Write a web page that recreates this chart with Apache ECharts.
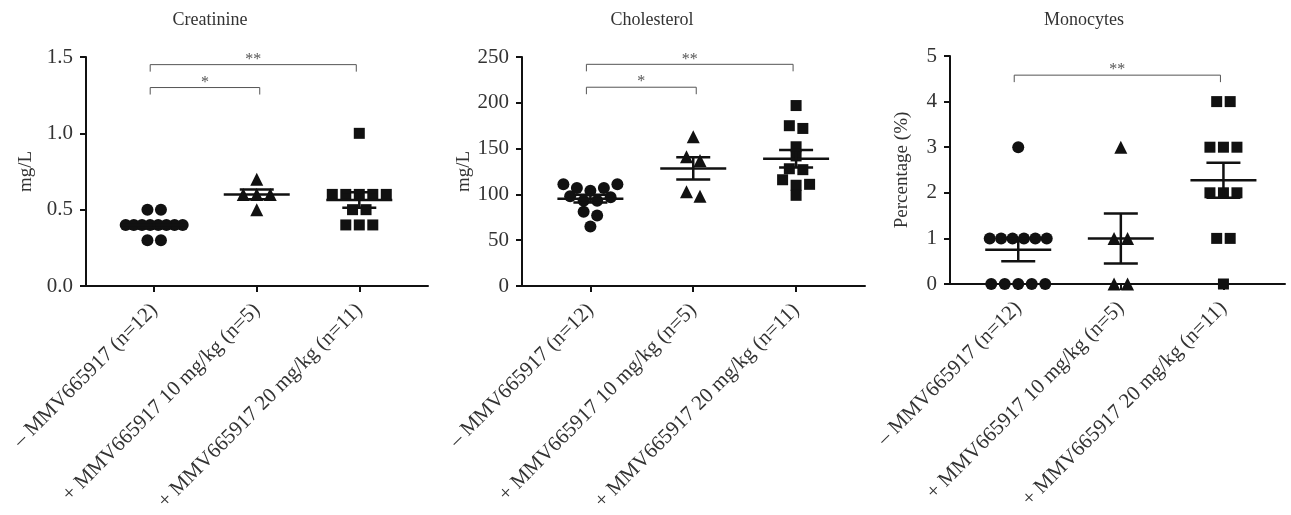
<!DOCTYPE html>
<html><head><meta charset="utf-8">
<script src="https://cdn.jsdelivr.net/npm/echarts@6/dist/echarts.min.js"></script>
<style>html,body{margin:0;padding:0;background:#fff}#c{width:1291px;height:515px}</style>
</head><body><div id="c"></div>
<script>
// ---------------- data ----------------
const categories = ['– MMV665917 (n=12)', '+ MMV665917 10 mg/kg (n=5)', '+ MMV665917 20 mg/kg (n=11)'];
const panelTitles = ['Creatinine', 'Cholesterol', 'Monocytes'];
const yAxisNames = ['mg/L', 'mg/L', 'Percentage (%)'];

const creatinineCtrl = [0.5, 0.5, 0.4, 0.4, 0.4, 0.4, 0.4, 0.4, 0.4, 0.4, 0.3, 0.3];
const creatinine10 = [0.7, 0.6, 0.6, 0.6, 0.5];
const creatinine20 = [1.0, 0.6, 0.6, 0.6, 0.6, 0.6, 0.5, 0.5, 0.4, 0.4, 0.4];

const cholesterolCtrl = [111, 111, 107, 107, 104, 98, 97, 93, 93, 81, 77, 65];
const cholesterol10 = [163, 141, 137, 103, 98];
const cholesterol20 = [197, 175, 172, 152, 142, 128, 127, 116, 111, 110, 99];

const monocytesCtrl = [3, 1, 1, 1, 1, 1, 1, 0, 0, 0, 0, 0];
const monocytes10 = [3, 1, 1, 0, 0];
const monocytes20 = [4, 4, 3, 3, 3, 2, 2, 2, 1, 1, 0];

const creatinineTicks = [0, 0.5, 1.0, 1.5];
const cholesterolTicks = [0, 50, 100, 150, 200, 250];
const monocytesTicks = [0, 1, 2, 3, 4, 5];

// significance brackets: [fromGroup, toGroup, height, label]
const creatinineSig = [[0, 1, 1.30, '*'], [0, 2, 1.45, '**']];
const cholesterolSig = [[0, 1, 217, '*'], [0, 2, 242, '**']];
const monocytesSig = [[0, 2, 4.58, '**']];

// ---------------- layout / style ----------------
const FONT = '"Liberation Serif", "DejaVu Serif", serif';
const INK = '#111';
const TXT = '#333';
const panels = [
  { groups: [creatinineCtrl, creatinine10, creatinine20], ticks: creatinineTicks, sig: creatinineSig, dec: 1,
    grid: { left: 86, top: 57, width: 342, height: 229 }, xMax: 2.67, nameGap: 50, titleX: 210 },
  { groups: [cholesterolCtrl, cholesterol10, cholesterol20], ticks: cholesterolTicks, sig: cholesterolSig, dec: 0,
    grid: { left: 522, top: 57, width: 343, height: 229 }, xMax: 2.67, nameGap: 43, titleX: 652 },
  { groups: [monocytesCtrl, monocytes10, monocytes20], ticks: monocytesTicks, sig: monocytesSig, dec: 0,
    grid: { left: 950, top: 56, width: 335, height: 228 }, xMax: 2.6, nameGap: 38, titleX: 1084 }
];
const X_MIN = -0.665;
const symbols = ['circle', 'triangle', 'rect'];
const symbolSizes = [12, 13, 11];
const DOT = 13.5, MAXW = 57, ROW_PX = 8;

function mean(a) { return a.reduce((s, v) => s + v, 0) / a.length; }
function sem(a) {
  const m = mean(a);
  const v = a.reduce((s, x) => s + (x - m) * (x - m), 0) / (a.length - 1);
  return Math.sqrt(v) / Math.sqrt(a.length);
}
// Prism-like row scatter: values that fall on the same pixel row are spread symmetrically
function swarm(values, gi, pxPerY, pxPerX) {
  const sorted = values.slice().sort((a, b) => b - a);
  const rows = [];
  sorted.forEach(v => {
    const r = rows[rows.length - 1];
    if (r && (r[0] - v) * pxPerY < ROW_PX) r.push(v); else rows.push([v]);
  });
  const out = [];
  rows.forEach(r => {
    const k = r.length;
    const s = k > 1 ? Math.min(DOT, MAXW / (k - 1)) : 0;
    r.forEach((v, j) => {
      const slot = j % 2 === 0 ? j / 2 : k - 1 - (j - 1) / 2;
      const off = (slot - (k - 1) / 2) * s;
      out.push([gi + off / pxPerX, v]);
    });
  });
  return out;
}

const grids = [], xAxes = [], yAxes = [], series = [], graphics = [];
panels.forEach((p, pi) => {
  grids.push(Object.assign({ containLabel: false }, p.grid));
  const yMax = p.ticks[p.ticks.length - 1];
  const pxPerY = p.grid.height / (yMax - p.ticks[0]);
  const pxPerX = p.grid.width / (p.xMax - X_MIN);
  xAxes.push({
    gridIndex: pi, type: 'value', min: X_MIN, max: p.xMax,
    splitLine: { show: false },
    axisLine: { show: true, onZero: false, lineStyle: { color: INK, width: 2 } },
    axisTick: { show: true, length: 6, customValues: [0, 1, 2], lineStyle: { color: INK, width: 2 } },
    axisLabel: {
      customValues: [0, 1, 2], rotate: 45, margin: 21, color: TXT, fontSize: 21, fontFamily: FONT,
      formatter: v => categories[Math.round(v)] || ''
    }
  });
  yAxes.push({
    gridIndex: pi, type: 'value', min: p.ticks[0], max: yMax, interval: p.ticks[1] - p.ticks[0],
    name: yAxisNames[pi], nameLocation: 'middle', nameGap: p.nameGap, nameRotate: 90,
    nameTextStyle: { color: TXT, fontSize: 19, fontFamily: FONT },
    splitLine: { show: false },
    axisLine: { show: true, onZero: false, lineStyle: { color: INK, width: 2 } },
    axisTick: { show: true, length: 6, lineStyle: { color: INK, width: 2 } },
    axisLabel: { margin: 13, color: TXT, fontSize: 21, fontFamily: FONT,
      showMinLabel: true, showMaxLabel: true, formatter: v => v.toFixed(p.dec) }
  });
  p.groups.forEach((g, gi) => {
    series.push({
      type: 'scatter', xAxisIndex: pi, yAxisIndex: pi, symbol: symbols[gi], symbolSize: symbolSizes[gi],
      itemStyle: { color: INK, opacity: 1 }, silent: true, z: 2,
      data: swarm(g, gi, pxPerY, pxPerX)
    });
  });
  series.push({
    type: 'custom', xAxisIndex: pi, yAxisIndex: pi, silent: true, z: 3,
    data: p.groups.map((g, gi) => [gi, mean(g), mean(g) - sem(g), mean(g) + sem(g)]),
    renderItem: (params, api) => {
      const c = api.coord([api.value(0), api.value(1)]);
      const lo = api.coord([api.value(0), api.value(2)]);
      const hi = api.coord([api.value(0), api.value(3)]);
      const st = { stroke: INK, lineWidth: 2.5, fill: null };
      return { type: 'group', children: [
        { type: 'line', shape: { x1: c[0] - 33, y1: c[1], x2: c[0] + 33, y2: c[1] }, style: st },
        { type: 'line', shape: { x1: c[0], y1: lo[1], x2: c[0], y2: hi[1] }, style: st },
        { type: 'line', shape: { x1: c[0] - 17, y1: lo[1], x2: c[0] + 17, y2: lo[1] }, style: st },
        { type: 'line', shape: { x1: c[0] - 17, y1: hi[1], x2: c[0] + 17, y2: hi[1] }, style: st }
      ] };
    }
  });
  series.push({
    type: 'custom', xAxisIndex: pi, yAxisIndex: pi, silent: true, z: 3,
    data: p.sig.map(s => [s[0], s[1], s[2], s[3]]),
    dimensions: ['a', 'b', 'y', { name: 'lab', type: 'ordinal' }],
    renderItem: (params, api) => {
      const s = p.sig[params.dataIndex];
      const p1 = api.coord([s[0], s[2]]);
      const p2 = api.coord([s[1], s[2]]);
      const x1 = p1[0] - 4, x2 = p2[0] + (s[1] === 1 ? 3 : -3);
      return { type: 'group', children: [
        { type: 'polyline', shape: { points: [[x1, p1[1] + 7], [x1, p1[1]], [x2, p1[1]], [x2, p1[1] + 7]] },
          style: { stroke: '#555', lineWidth: 1, fill: null } },
        { type: 'text', x: (x1 + x2) / 2, y: p1[1] + 3,
          style: { text: s[3], fill: '#555', fontSize: 16, fontFamily: FONT, align: 'center', verticalAlign: 'bottom' } }
      ] };
    }
  });
  graphics.push({ type: 'text', x: p.titleX, y: 20,
    style: { text: panelTitles[pi], fill: TXT, fontSize: 18, fontFamily: FONT, align: 'center', verticalAlign: 'middle' } });
});

const chart = echarts.init(document.getElementById('c'), null, { renderer: 'canvas' });
chart.setOption({
  animation: false,
  backgroundColor: '#fff',
  grid: grids, xAxis: xAxes, yAxis: yAxes, series: series, graphic: graphics
});
</script>
</body></html>
